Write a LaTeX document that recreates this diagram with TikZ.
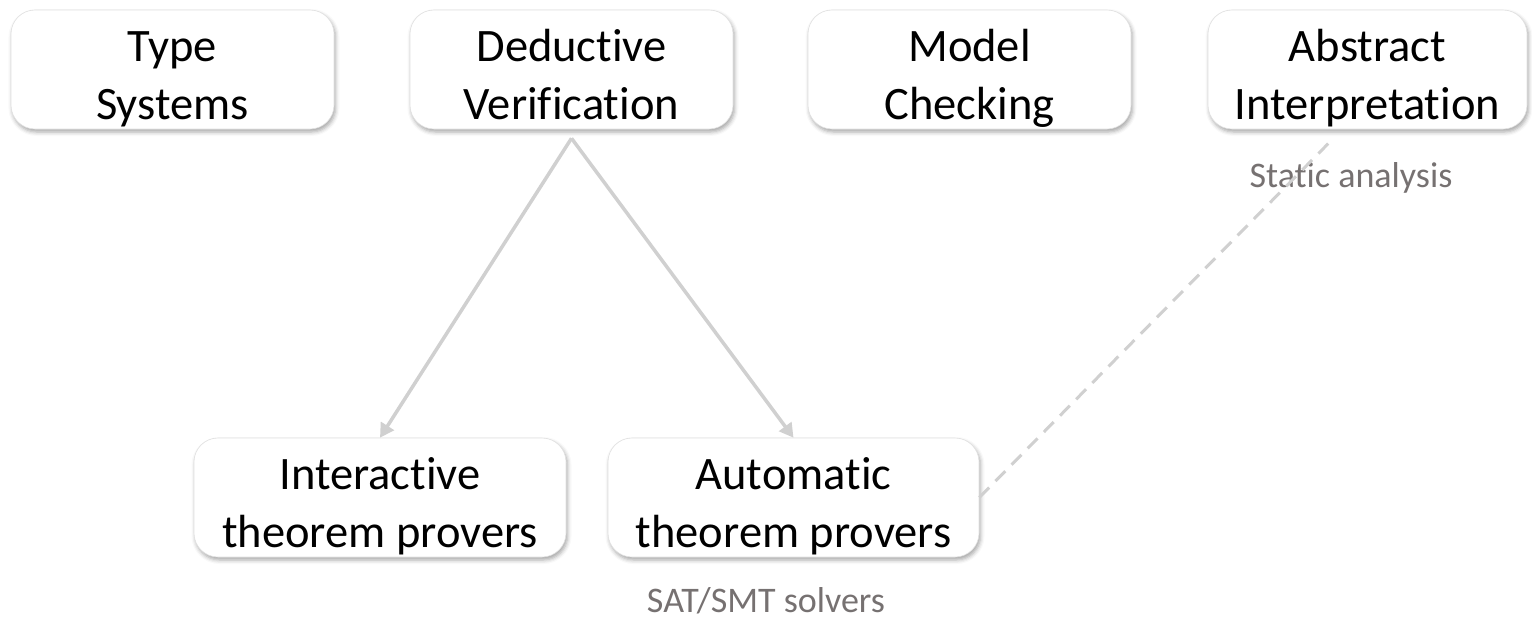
\documentclass[tikz,border=0pt]{standalone}
\usepackage{fontspec}
\setmainfont{Carlito}[Ligatures=NoCommon]
\usetikzlibrary{arrows.meta,shadows.blur,calc}
\definecolor{linkgray}{HTML}{D0D0D0}
\definecolor{notegray}{HTML}{767171}
% fixed line box so every label sits at the same baselines
\newcommand{\lnstrut}{\rule[-9.5pt]{0pt}{61pt}}
\newcommand{\boxfont}{\fontsize{46.5}{58}\selectfont\setlength{\lineskiplimit}{-100pt}}
\tikzset{
  topic/.style={rounded corners=24pt, fill=white, draw=black!12, line width=0.6pt,
    minimum width=323pt, minimum height=119pt, align=center, inner sep=0pt,
    font=\boxfont,
    blur shadow={shadow xshift=1.5pt, shadow yshift=-3pt, shadow blur radius=4pt, shadow opacity=35}},
  tool/.style={topic, minimum width=372pt},
  note/.style={text=notegray, font=\fontsize{36}{44}\selectfont, inner sep=0pt, anchor=base},
  link/.style={draw=linkgray, line width=3.5pt, -{Triangle[length=14pt,width=15pt]}},
  weaklink/.style={draw=linkgray, line width=3pt, dash pattern=on 14pt off 9pt}
}
\begin{document}
\begin{tikzpicture}[x=1pt, y=-1pt]
  \useasboundingbox (0,0) rectangle (1532,621);
  % top row of approaches
  \node[topic] (ts) at (172.5,69.5) {\lnstrut Type\\\lnstrut Systems};
  \node[topic] (dv) at (571.5,69.5) {\lnstrut Deductive\\\lnstrut Verification};
  \node[topic] (mc) at (969.5,69.5) {\lnstrut Model\\\lnstrut Checking};
  \node[topic, minimum width=319pt] (ai) at (1367.5,69.5) {\lnstrut Abstract\\\lnstrut Interpretation};
  % provers
  \node[tool] (itp) at (380,497.5) {\lnstrut Interactive\\\lnstrut theorem provers};
  \node[tool, minimum width=371pt] (atp) at (793.5,497.5) {\lnstrut Automatic\\\lnstrut theorem provers};
  % annotations
  \node[note] (sa) at (1351,187) {Static analysis};
  \node[note] (smt) at (766,612) {SAT/SMT solvers};
  % connectors
  \coordinate (apex) at ($(dv.south)+(0,9)$);
  \coordinate (dashend) at ($(ai.south)+(-39,14)$);
  \draw[link] (apex) -- (itp.north);
  \draw[link] (apex) -- (atp.north);
  \draw[weaklink] (atp.east) -- (dashend);
\end{tikzpicture}
\end{document}
